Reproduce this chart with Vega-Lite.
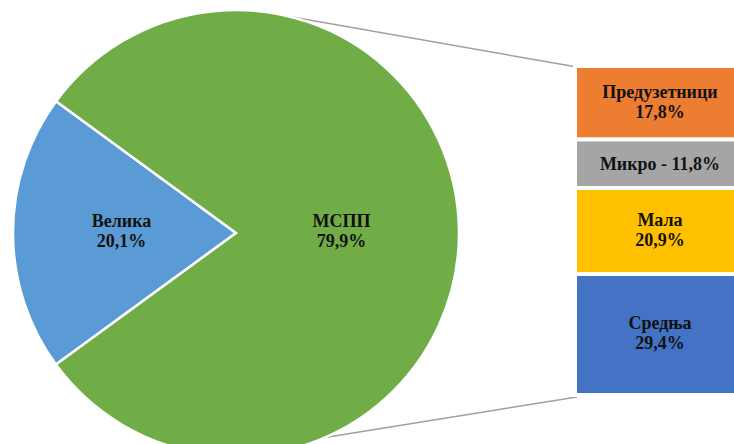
{
  "$schema": "https://vega.github.io/schema/vega-lite/v6.json",
  "width": 734,
  "height": 444,
  "autosize": {"type": "fit", "contains": "padding"},
  "padding": 0,
  "background": "white",
  "config": {
    "view": {"stroke": null},
    "text": {"font": "Liberation Serif", "fontWeight": "bold", "fontSize": 18, "color": "#111111", "lineBreak": "\n", "lineHeight": 20}
  },
  "datasets": {
    "pie": [
      {"cat": "Велика", "v": 20.1, "i": 1, "label": "Велика\n20,1%"},
      {"cat": "МСПП", "v": 79.9, "i": 2, "label": "МСПП\n79,9%"}
    ],
    "bar": [
      {"grp": "МСПП", "cat": "Средња", "v": 29.4, "i": 1, "label": "Средња\n29,4%"},
      {"grp": "МСПП", "cat": "Мала", "v": 20.9, "i": 2, "label": "Мала\n20,9%"},
      {"grp": "МСПП", "cat": "Микро", "v": 11.8, "i": 3, "label": "Микро - 11,8%"},
      {"grp": "МСПП", "cat": "Предузетници", "v": 17.8, "i": 4, "label": "Предузетници\n17,8%"}
    ]
  },
  "layer": [
    {
      "data": {"values": [{}]},
      "mark": {"type": "rule", "color": "#A0A0A0", "strokeWidth": 1.5},
      "encoding": {"x": {"value": 275}, "y": {"value": 14}, "x2": {"value": 577}, "y2": {"value": 67}}
    },
    {
      "data": {"values": [{}]},
      "mark": {"type": "rule", "color": "#A0A0A0", "strokeWidth": 1.5},
      "encoding": {"x": {"value": 297}, "y": {"value": 442}, "x2": {"value": 577}, "y2": {"value": 397}}
    },
    {
      "data": {"name": "pie"},
      "mark": {"type": "arc", "outerRadius": 223, "stroke": "white", "strokeWidth": 2.5},
      "encoding": {
        "x": {"value": 236},
        "y": {"value": 233},
        "theta": {"field": "v", "type": "quantitative", "stack": true, "scale": {"range": [4.0814, 10.3646]}},
        "order": {"field": "i", "type": "quantitative"},
        "color": {
          "field": "cat",
          "type": "nominal",
          "scale": {
            "domain": ["Велика", "МСПП", "Предузетници", "Микро", "Мала", "Средња"],
            "range": ["#5B9BD5", "#70AD47", "#ED7D31", "#A5A5A5", "#FFC000", "#4472C4"]
          },
          "legend": null
        }
      }
    },
    {
      "data": {"name": "pie"},
      "mark": {"type": "text", "radius": 110, "dx": -4.5, "dy": -11},
      "encoding": {
        "x": {"value": 236},
        "y": {"value": 233},
        "theta": {"field": "v", "type": "quantitative", "stack": true},
        "order": {"field": "i", "type": "quantitative"},
        "text": {"field": "label"}
      }
    },
    {
      "data": {"name": "bar"},
      "mark": {"type": "bar", "stroke": "white", "strokeWidth": 4},
      "encoding": {
        "x": {"field": "grp", "type": "nominal", "scale": {"range": [575, 745], "paddingInner": 0, "paddingOuter": 0}, "axis": null},
        "y": {"field": "v", "type": "quantitative", "stack": "zero", "scale": {"domain": [0, 79.9], "range": [395, 66], "nice": false, "zero": true}, "axis": null},
        "order": {"field": "i", "type": "quantitative"},
        "color": {"field": "cat", "type": "nominal", "legend": null}
      }
    },
    {
      "data": {"name": "bar"},
      "transform": [
        {"stack": "v", "groupby": ["grp"], "sort": [{"field": "i", "order": "ascending"}], "as": ["y0", "y1"]},
        {"fold": ["y0", "y1"], "as": ["k", "yy"]},
        {"filter": "datum.cat !== 'Микро'"}
      ],
      "mark": {"type": "text", "baseline": "middle", "dy": -10},
      "encoding": {
        "x": {"field": "grp", "type": "nominal", "axis": null},
        "y": {"aggregate": "mean", "field": "yy", "type": "quantitative", "axis": null},
        "text": {"field": "label"}
      }
    },
    {
      "data": {"name": "bar"},
      "transform": [
        {"stack": "v", "groupby": ["grp"], "sort": [{"field": "i", "order": "ascending"}], "as": ["y0", "y1"]},
        {"fold": ["y0", "y1"], "as": ["k", "yy"]},
        {"filter": "datum.cat === 'Микро'"}
      ],
      "mark": {"type": "text", "baseline": "middle", "dy": 1},
      "encoding": {
        "x": {"field": "grp", "type": "nominal", "axis": null},
        "y": {"aggregate": "mean", "field": "yy", "type": "quantitative", "axis": null},
        "text": {"field": "label"}
      }
    }
  ]
}
